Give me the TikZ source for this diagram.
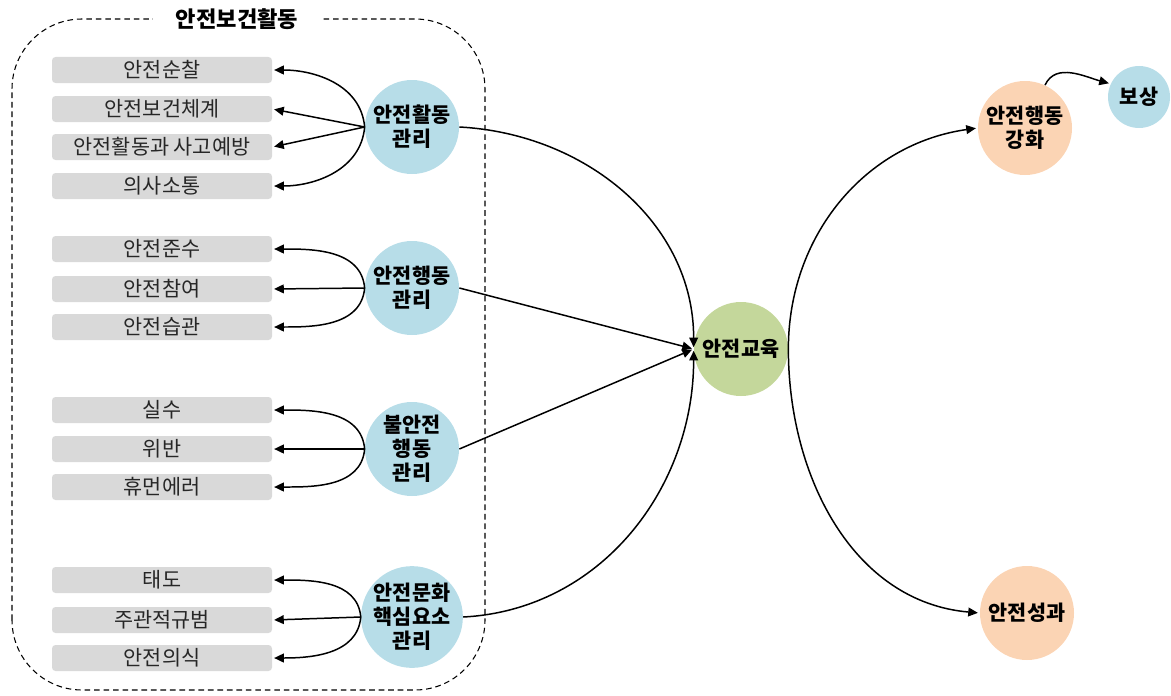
\documentclass[tikz,border=0pt]{standalone}
\usepackage{fontspec}
\setmainfont{Noto Sans CJK KR}
\usetikzlibrary{arrows.meta}
\definecolor{boxgray}{HTML}{D9D9D9}
\definecolor{skyblue}{HTML}{B7DDE8}
\definecolor{leafgreen}{HTML}{C4D79B}
\definecolor{peach}{HTML}{FBD4B4}
\tikzset{
  item/.style={fill=boxgray, rounded corners=2pt, minimum width=4.4cm, minimum height=0.52cm, inner sep=0pt, text=black!85, font=\fontsize{11.8}{13}\selectfont},
  hub/.style={circle, fill=#1, minimum size=1.88cm, inner sep=0pt, align=center, font=\fontsize{11.8}{13.6}\selectfont\bfseries},
  link/.style={-{Triangle[length=5.5pt,width=5pt]}, line width=0.85pt, shorten >=1pt}
}
\begin{document}
\begin{tikzpicture}
	\useasboundingbox (0, 0) rectangle (23.42, 13.9);
	% frame
	\draw [dash pattern=on 3.2pt off 2.2pt, line width=0.6pt, rounded corners=1.4cm] (0.24, 0.1) rectangle (9.7, 13.52);
	\node [fill=white, inner xsep=13pt, font=\fontsize{12.6}{14}\selectfont\bfseries] (title) at (4.74, 13.52) {안전보건활동};
	% nodes
	%% group 1
	\node [item] (0) at (3.24, 12.5) {안전순찰};
	\node [item] (1) at (3.24, 11.72) {안전보건체계};
	\node [item] (2) at (3.24, 10.96) {안전활동과 사고예방};
	\node [item] (3) at (3.24, 10.18) {의사소통};
	\node [hub=skyblue] (4) at (8.24, 11.36) {안전활동\\관리};
	%% group 2
	\node [item] (5) at (3.24, 8.92) {안전준수};
	\node [item] (6) at (3.24, 8.12) {안전참여};
	\node [item] (7) at (3.24, 7.36) {안전습관};
	\node [hub=skyblue] (8) at (8.24, 8.14) {안전행동\\관리};
	%% group 3
	\node [item] (9) at (3.24, 5.7) {실수};
	\node [item] (10) at (3.24, 4.92) {위반};
	\node [item] (11) at (3.24, 4.16) {휴먼에러};
	\node [hub=skyblue] (12) at (8.24, 4.92) {불안전\\행동\\관리};
	%% group 4
	\node [item] (13) at (3.24, 2.3) {태도};
	\node [item] (14) at (3.24, 1.5) {주관적규범};
	\node [item] (15) at (3.24, 0.74) {안전의식};
	\node [hub=skyblue] (16) at (8.24, 1.56) {안전문화\\핵심요소\\관리};
	%% right side
	\node [hub=leafgreen] (17) at (14.82, 6.92) {안전교육};
	\node [hub=peach] (18) at (20.5, 11.34) {안전행동\\강화};
	\node [hub=skyblue, minimum size=1.24cm] (19) at (22.78, 11.96) {보상};
	\node [hub=peach] (20) at (20.54, 1.64) {안전성과};
	% edges
	%% group 1
	\draw [link] (4.west) to [out=95, in=0] (0.east);
	\draw [link] (4.west) to (1.east);
	\draw [link] (4.west) to (2.east);
	\draw [link] (4.west) to [out=-95, in=0] (3.east);
	%% group 2
	\draw [link] (8.west) to [out=95, in=0] (5.east);
	\draw [link] (8.west) to (6.east);
	\draw [link] (8.west) to [out=-95, in=0] (7.east);
	%% group 3
	\draw [link] (12.west) to [out=95, in=0] (9.east);
	\draw [link] (12.west) to (10.east);
	\draw [link] (12.west) to [out=-95, in=0] (11.east);
	%% group 4
	\draw [link] (16.west) to [out=95, in=0] (13.east);
	\draw [link] (16.west) to (14.east);
	\draw [link] (16.west) to [out=-95, in=0] (15.east);
	%% to education
	\draw [link] (4.east) to [out=-3, in=90] (17.west);
	\draw [link] (8.east) to (17.west);
	\draw [link] (12.east) to (17.west);
	\draw [link] (16.east) to [out=3, in=-90] (17.west);
	%% outcomes
	\draw [link] (17.east) to [out=90, in=188] (18.west);
	\draw [link] (17.east) to [out=-90, in=175] (20.west);
	\draw [link] (18.65) to [out=65, in=165] (19.155);
\end{tikzpicture}
\end{document}
